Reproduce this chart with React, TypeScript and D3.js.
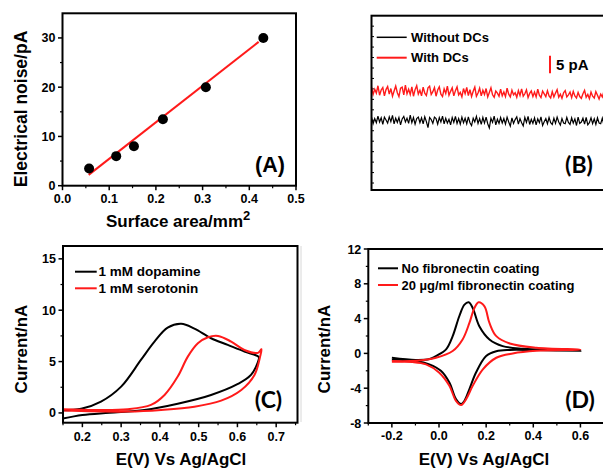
import React from 'react';
import * as d3 from 'd3';

const FONT = "'Liberation Sans', Arial, sans-serif";
const TAG_FONT = "Lato, 'Open Sans', sans-serif";
const RED = '#ff1a1a';

// ---------- Panel A ----------
const surfaceArea = [0.057, 0.115, 0.153, 0.215, 0.307, 0.43];
const electricalNoise = [3.5, 6.0, 8.0, 13.5, 20.0, 30.0];
const fitArea = [0.056, 0.42];
const fitNoise = [2.2, 29.2];
const aXTicks = [0, 0.1, 0.2, 0.3, 0.4, 0.5];
const aXMinor = [0.05, 0.15, 0.25, 0.35, 0.45];
const aYTicks = [0, 10, 20, 30];
const aYMinor = [5, 15, 25];

// ---------- Panel B ----------
const withoutDCs = [
  20.9, 19.0, 20.5, 19.3, 21.2, 19.5, 20.7, 18.8, 20.9, 20.1,
  19.2, 21.0, 19.6, 21.4, 19.0, 20.6, 19.4, 20.8, 18.7, 20.4,
  21.1, 19.5, 20.6, 19.1, 21.5, 19.3, 20.8, 18.9, 20.5, 20.9,
  19.3, 20.7, 19.0, 21.0, 19.6, 17.9, 20.8, 20.2, 19.1, 20.9,
  20.5, 18.9, 20.8, 19.5, 21.2, 19.0, 20.6, 19.2, 20.3, 18.7,
  20.8, 19.4, 21.1, 19.1, 20.5, 18.9, 20.9, 19.3, 20.6, 19.0,
  21.0, 19.3, 18.5, 20.6, 19.5, 21.1, 19.1, 20.5, 18.8, 20.8,
  19.2, 20.9, 19.0, 17.8, 20.6, 19.4, 21.2, 18.7, 20.3, 19.1,
  20.8, 19.2, 20.5, 18.9, 20.9, 19.5, 18.3, 20.7, 19.1, 20.2,
  21.0, 18.9, 20.5, 19.3, 18.4, 20.8, 19.4, 21.1, 18.8, 20.3,
  19.1, 20.7, 18.7, 20.4, 19.3, 21.0, 18.5, 19.6, 20.5, 19.0,
  20.8, 19.3, 18.8, 20.6, 19.1, 20.9, 19.5, 18.6, 20.5, 19.2,
  19.0, 20.8, 19.4, 18.8, 20.7, 19.2, 20.4, 18.5, 20.9, 19.1,
  19.5, 20.6, 18.9, 20.8, 18.7, 19.3, 20.7, 19.0, 20.4, 18.8,
  20.7, 19.2, 19.0, 20.6, 18.6, 19.5, 20.4, 19.1, 20.7, 19.3,
];
const withDCs = [
  29.6, 27.4, 28.9, 27.8, 29.9, 27.2, 28.7, 29.4, 27.0, 28.8,
  29.7, 27.5, 29.1, 26.9, 28.4, 29.8, 27.9, 26.8, 29.2, 29.5,
  27.3, 30.1, 27.6, 28.9, 27.4, 29.6, 26.9, 28.8, 29.9, 27.5,
  28.6, 27.0, 29.5, 27.8, 27.1, 29.3, 29.8, 27.4, 28.2, 29.4,
  26.9, 28.7, 29.6, 27.5, 26.8, 29.0, 27.7, 29.8, 27.2, 28.3,
  29.3, 27.0, 28.5, 29.6, 27.3, 28.0, 26.7, 29.1, 27.6, 29.4,
  27.1, 28.8, 26.8, 28.3, 29.5, 26.9, 27.8, 29.2, 27.0, 28.6,
  27.4, 29.1, 26.7, 28.0, 29.3, 27.3, 26.6, 28.4, 27.8, 26.9,
  28.9, 27.0, 28.1, 26.8, 29.2, 27.5, 26.7, 28.6, 27.3, 27.9,
  26.6, 28.5, 27.1, 29.0, 26.9, 27.6, 28.7, 26.5, 27.7, 28.4,
  26.8, 28.1, 26.7, 28.9, 27.2, 26.5, 28.4, 27.6, 26.8, 28.5,
  27.0, 26.4, 28.2, 26.7, 27.8, 28.8, 26.6, 27.5, 26.3, 27.9,
  28.5, 26.7, 27.3, 28.1, 26.5, 28.3, 27.0, 26.4, 28.0, 26.8,
  26.3, 27.6, 28.6, 26.6, 27.4, 26.2, 28.1, 26.9, 26.4, 28.2,
  27.2, 26.1, 27.5, 26.7, 28.3, 26.8, 26.2, 27.8, 26.5, 27.3,
];
const scaleBar = [33.5, 38.5];
const bLeftTicks = [2, 5, 8, 11, 14, 17, 20, 23, 26, 29, 32, 35, 38, 41, 44, 47];

// ---------- Panel C ----------
const dopamineE = [0.15, 0.2, 0.27, 0.36, 0.446, 0.532, 0.6, 0.635, 0.655,
  0.655, 0.618, 0.575, 0.532, 0.489, 0.455, 0.42, 0.386, 0.351, 0.3, 0.248, 0.197, 0.15];
const dopamineI = [-0.55, -0.2, 0.02, 0.29, 0.9, 1.75, 2.8, 3.7, 5.2,
  5.45, 5.97, 6.62, 7.27, 8.2, 8.67, 8.3, 6.94, 5.16, 2.56, 1.1, 0.4, 0.25];
const serotoninE = [0.15, 0.317, 0.403, 0.489, 0.558, 0.61, 0.644, 0.658, 0.662,
  0.653, 0.618, 0.584, 0.55, 0.524, 0.498, 0.472, 0.446, 0.412, 0.377, 0.317, 0.231, 0.15];
const serotoninI = [0.23, 0.13, 0.29, 0.61, 1.2, 2.24, 3.7, 5.4, 6.2,
  5.85, 6.13, 6.94, 7.5, 7.37, 6.78, 5.48, 3.54, 1.75, 0.78, 0.36, 0.29, 0.36];
const cXTicks = [0.2, 0.3, 0.4, 0.5, 0.6, 0.7];
const cXMinor = [0.15, 0.25, 0.35, 0.45, 0.55, 0.65, 0.75];
const cYTicks = [0, 5, 10, 15];
const cYMinor = [2.5, 7.5, 12.5];

// ---------- Panel D ----------
const noCoatE = [-0.2, -0.1, -0.04, -0.013, 0.03, 0.058, 0.086, 0.108, 0.126, 0.143, 0.171, 0.214, 0.27, 0.356, 0.483, 0.6,
  0.413, 0.3, 0.243, 0.2, 0.157, 0.129, 0.108, 0.094, 0.072, 0.044, 0.008, -0.041, -0.098, -0.2];
const noCoatI = [-0.5, -0.75, -0.65, -0.3, 0.46, 1.98, 4.27, 5.6, 5.87, 5.22, 3.12, 1.6, 0.84, 0.53, 0.38, 0.3,
  0.38, 0.4, 0.25, -0.3, -2.2, -4.1, -5.45, -5.83, -5.26, -3.35, -2.0, -1.26, -0.88, -0.69];
const coatE = [-0.2, -0.1, -0.013, 0.058, 0.1, 0.129, 0.15, 0.168, 0.193, 0.214, 0.243, 0.3, 0.413, 0.6,
  0.413, 0.313, 0.243, 0.186, 0.143, 0.115, 0.094, 0.072, 0.044, 0.0, -0.055, -0.112, -0.2];
const coatI = [-0.88, -0.85, -0.5, 0.27, 1.6, 3.5, 5.2, 5.87, 5.4, 3.5, 1.98, 1.14, 0.65, 0.43,
  0.3, 0.0, -0.5, -1.83, -3.73, -5.26, -5.94, -5.45, -3.73, -2.2, -1.26, -1.0, -1.0];
const dXTicks = [-0.2, 0, 0.2, 0.4, 0.6];
const dXMinor = [-0.3, -0.1, 0.1, 0.3, 0.5, 0.7];
const dYTicks = [-8, -4, 0, 4, 8, 12];
const dYMinor = [-6, -2, 2, 6, 10];

type Sc = d3.ScaleLinear<number, number>;

function XAxis({ s, y, ticks, minor, fmt, labelY }: { s: Sc; y: number; ticks: number[]; minor: number[]; fmt: (v: number) => string; labelY: number }) {
  return (
    <g>
      {ticks.map((t) => (
        <g key={'M' + t}>
          <line x1={s(t)} x2={s(t)} y1={y} y2={y + 4.5} stroke="#000" strokeWidth={1.5} />
          <text x={s(t)} y={labelY} textAnchor="middle" fontFamily={FONT} fontWeight="bold" fontSize={12.5}>{fmt(t)}</text>
        </g>
      ))}
      {minor.map((t) => (
        <line key={'m' + t} x1={s(t)} x2={s(t)} y1={y} y2={y + 2.5} stroke="#000" strokeWidth={1.2} />
      ))}
    </g>
  );
}

function YAxis({ s, x, ticks, minor, fmt }: { s: Sc; x: number; ticks: number[]; minor: number[]; fmt: (v: number) => string }) {
  return (
    <g>
      {ticks.map((t) => (
        <g key={'M' + t}>
          <line x1={x - 4.5} x2={x} y1={s(t)} y2={s(t)} stroke="#000" strokeWidth={1.5} />
          <text x={x - 7} y={s(t) + 4.5} textAnchor="end" fontFamily={FONT} fontWeight="bold" fontSize={12.5}>{fmt(t)}</text>
        </g>
      ))}
      {minor.map((t) => (
        <line key={'m' + t} x1={x - 2.5} x2={x} y1={s(t)} y2={s(t)} stroke="#000" strokeWidth={1.2} />
      ))}
    </g>
  );
}

const f1 = (v: number) => v.toFixed(1);
const f0 = (v: number) => String(v);

function makeLine(xs: number[], ys: number[], sx: Sc, sy: Sc) {
  const pts = xs.map((x, i) => [x, ys[i]] as [number, number]);
  return d3.line<[number, number]>().x((d) => sx(d[0])).y((d) => sy(d[1])).curve(d3.curveCatmullRom.alpha(0.5))(pts) || '';
}

export default function App() {
  // Panel A
  const ax = d3.scaleLinear().domain([0, 0.5]).range([62.5, 296]);
  const ay = d3.scaleLinear().domain([0, 35]).range([185.7, 13.3]);
  const fitPath = d3.line<number>().x((d) => ax(d)).y((_, i) => ay(fitNoise[i]))(fitArea) || '';

  // Panel B
  const bx = d3.scaleLinear().domain([0, withDCs.length - 1]).range([371.5, 612]);
  const by = d3.scaleLinear().domain([0, 50]).range([190, 15.7]);
  const bLine = (arr: number[]) => d3.line<number>().x((_, i) => bx(i)).y((d) => by(d))(arr) || '';

  // Panel C
  const cx = d3.scaleLinear().domain([0.15, 0.755]).range([63, 297.5]);
  const cy = d3.scaleLinear().domain([-0.95, 16.25]).range([422.7, 246]);

  // Panel D
  const dx = d3.scaleLinear().domain([-0.3, 0.7]).range([368.3, 604]);
  const dy = d3.scaleLinear().domain([-8, 12]).range([423, 249]);

  return (
    <svg width={603} height={472} style={{ position: 'absolute', left: 0, top: 0, background: '#fff' }}>
      <rect x={0} y={0} width={603} height={472} fill="#fff" />

      {/* ---------------- Panel A ---------------- */}
      <XAxis s={ax} y={185.7} ticks={aXTicks} minor={aXMinor} fmt={f1} labelY={202.5} />
      <YAxis s={ay} x={62.5} ticks={aYTicks} minor={aYMinor} fmt={f0} />
      <path d={fitPath} stroke={RED} strokeWidth={2} fill="none" />
      {surfaceArea.map((a, i) => (
        <circle key={i} cx={ax(a)} cy={ay(electricalNoise[i])} r={5} fill="#000" />
      ))}
      <rect x={62.5} y={13.3} width={296 - 62.5} height={185.7 - 13.3} fill="none" stroke="#000" strokeWidth={2} />
      <text x={270} y={171.5} textAnchor="middle" fontFamily={FONT} fontWeight="bold" fontSize={21.5}>(A)</text>
      <text x={106} y={226.5} fontFamily={FONT} fontWeight="bold" fontSize={17}>
        Surface area/mm<tspan dy={-7} fontSize={13}>2</tspan>
      </text>
      <text transform="translate(26.5,109) rotate(-90)" textAnchor="middle" fontFamily={FONT} fontWeight="bold" fontSize={17.5}>Electrical noise/pA</text>

      {/* ---------------- Panel B ---------------- */}
      {bLeftTicks.map((t) => (
        <line key={t} x1={371.5} x2={374} y1={by(t)} y2={by(t)} stroke="#000" strokeWidth={1} />
      ))}
      <path d={bLine(withDCs)} stroke={RED} strokeWidth={1.4} fill="none" />
      <path d={bLine(withoutDCs)} stroke="#000" strokeWidth={1.2} fill="none" />
      <rect x={371.5} y={15.7} width={260} height={190 - 15.7} fill="none" stroke="#000" strokeWidth={2} />
      <line x1={376.7} x2={406.7} y1={37.3} y2={37.3} stroke="#000" strokeWidth={1.5} />
      <text x={411} y={41.8} fontFamily={FONT} fontWeight="bold" fontSize={13}>Without DCs</text>
      <line x1={376.7} x2={406.7} y1={57.7} y2={57.7} stroke={RED} strokeWidth={2} />
      <text x={411} y={62.2} fontFamily={FONT} fontWeight="bold" fontSize={13}>With DCs</text>
      <line x1={550} x2={550} y1={by(scaleBar[0])} y2={by(scaleBar[1])} stroke={RED} strokeWidth={2} />
      <text x={556} y={70} fontFamily={FONT} fontWeight="bold" fontSize={15}>5 pA</text>
      <text x={579} y={173} textAnchor="middle" fontFamily={TAG_FONT} fontWeight="bold" fontSize={23}>(B)</text>

      {/* ---------------- Panel C ---------------- */}
      <XAxis s={cx} y={422.7} ticks={cXTicks} minor={cXMinor} fmt={f1} labelY={440.7} />
      <YAxis s={cy} x={63} ticks={cYTicks} minor={cYMinor} fmt={f0} />
      <path d={makeLine(dopamineE, dopamineI, cx, cy)} stroke="#000" strokeWidth={2} fill="none" />
      <path d={makeLine(serotoninE, serotoninI, cx, cy)} stroke={RED} strokeWidth={2} fill="none" />
      <rect x={63} y={246} width={297.5 - 63} height={422.7 - 246} fill="none" stroke="#000" strokeWidth={2} />
      <line x1={75} x2={96.7} y1={271.7} y2={271.7} stroke="#000" strokeWidth={2} />
      <text x={98.5} y={276.3} fontFamily={FONT} fontWeight="bold" fontSize={13.5}>1 mM dopamine</text>
      <line x1={75} x2={96.7} y1={288.3} y2={288.3} stroke={RED} strokeWidth={2} />
      <text x={98.5} y={292.9} fontFamily={FONT} fontWeight="bold" fontSize={13.5}>1 mM serotonin</text>
      <text x={268.5} y={408} textAnchor="middle" fontFamily={TAG_FONT} fontWeight="bold" fontSize={23}>(C)</text>
      <text x={181} y={465} textAnchor="middle" fontFamily={FONT} fontWeight="bold" fontSize={17}>E(V) Vs Ag/AgCl</text>
      <text transform="translate(26.5,349) rotate(-90)" textAnchor="middle" fontFamily={FONT} fontWeight="bold" fontSize={17}>Current/nA</text>
      <line x1={301} x2={301} y1={246} y2={422} stroke="#d8d8d8" strokeWidth={1} />

      {/* ---------------- Panel D ---------------- */}
      <XAxis s={dx} y={423} ticks={dXTicks} minor={dXMinor} fmt={f1} labelY={440} />
      <YAxis s={dy} x={368.3} ticks={dYTicks} minor={dYMinor} fmt={f0} />
      <path d={makeLine(noCoatE, noCoatI, dx, dy)} stroke="#000" strokeWidth={2} fill="none" />
      <path d={makeLine(coatE, coatI, dx, dy)} stroke={RED} strokeWidth={2} fill="none" />
      <rect x={368.3} y={249} width={260} height={423 - 249} fill="none" stroke="#000" strokeWidth={2} />
      <line x1={378} x2={398} y1={268.3} y2={268.3} stroke="#000" strokeWidth={2} />
      <text x={401.5} y={272.9} fontFamily={FONT} fontWeight="bold" fontSize={13}>No fibronectin coating</text>
      <line x1={378} x2={398} y1={285} y2={285} stroke={RED} strokeWidth={2} />
      <text x={401.5} y={289.6} fontFamily={FONT} fontWeight="bold" fontSize={13}>20 µg/ml fibronectin coating</text>
      <text x={580} y={408} textAnchor="middle" fontFamily={TAG_FONT} fontWeight="bold" fontSize={23}>(D)</text>
      <text x={484} y={465} textAnchor="middle" fontFamily={FONT} fontWeight="bold" fontSize={17}>E(V) Vs Ag/AgCl</text>
      <text transform="translate(329.5,349) rotate(-90)" textAnchor="middle" fontFamily={FONT} fontWeight="bold" fontSize={17}>Current/nA</text>
    </svg>
  );
}
